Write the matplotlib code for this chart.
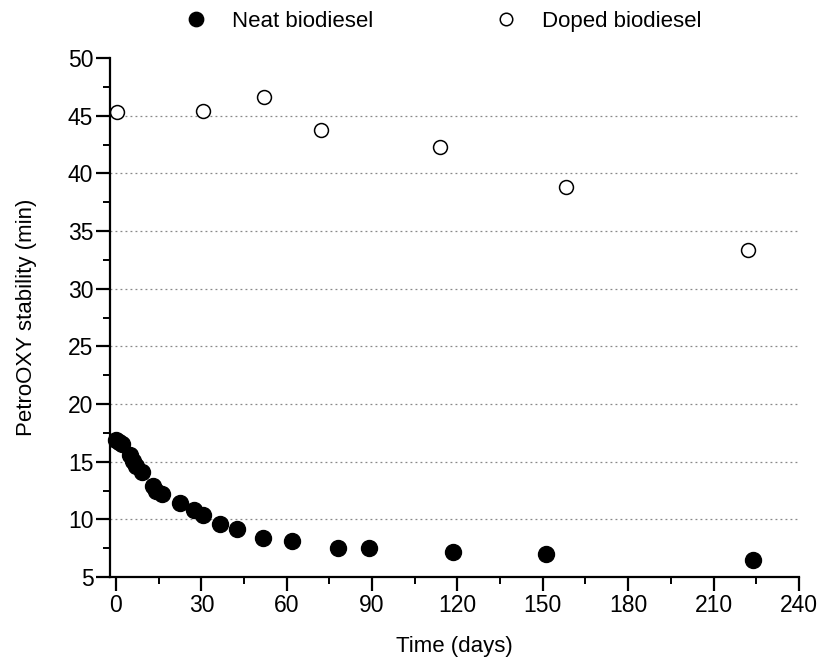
import matplotlib.pyplot as plt
from matplotlib.ticker import MultipleLocator

plt.rcParams["font.family"] = ["Liberation Sans", "DejaVu Sans"]

# ---- data ----
neat_days = [0, 1, 2, 5, 6, 7, 9, 13, 14, 16, 22.5, 27.5, 30.5, 36.5, 42.5,
             51.5, 62, 78, 89, 118.5, 151, 224]
neat_stab = [16.9, 16.7, 16.5, 15.6, 15.1, 14.6, 14.1, 12.9, 12.5, 12.2, 11.4,
             10.8, 10.4, 9.6, 9.2, 8.4, 8.1, 7.5, 7.5, 7.2, 7.0, 6.5]

doped_days = [0.3, 30.5, 52, 72, 114, 158, 222]
doped_stab = [45.3, 45.4, 46.6, 43.8, 42.3, 38.85, 33.4]

grid_levels = [10, 15, 20, 25, 30, 35, 40, 45]

fig = plt.figure(figsize=(8.36, 6.72), dpi=100)
ax = fig.add_axes([0.1316, 0.1414, 0.824, 0.772])

for g in grid_levels:
    ax.axhline(g, color="#888888", ls=(0, (1.5, 2.5)), lw=0.9, zorder=0)

ax.plot(neat_days, neat_stab, "o", color="black", ms=11.5, ls="none",
        label="Neat biodiesel", clip_on=False, zorder=3)
ax.plot(doped_days, doped_stab, "o", mfc="white", mec="black", mew=1.1,
        ms=10, ls="none", label="Doped biodiesel", clip_on=False, zorder=3)

ax.set_xlim(-2.1, 240)
ax.set_ylim(5, 50)
ax.xaxis.set_major_locator(MultipleLocator(30))
ax.xaxis.set_minor_locator(MultipleLocator(15))
ax.yaxis.set_major_locator(MultipleLocator(5))
ax.yaxis.set_minor_locator(MultipleLocator(2.5))

for s in ("top", "right"):
    ax.spines[s].set_visible(False)
for s in ("left", "bottom"):
    ax.spines[s].set_linewidth(1.6)

ax.tick_params(which="major", direction="out", length=10, width=1.6,
               labelsize=16.5, pad=2)
ax.tick_params(which="minor", direction="out", length=5, width=1.4)

ax.set_xlabel("Time (days)", fontsize=16, labelpad=14)
ax.set_ylabel("PetroOXY stability (min)", fontsize=16, labelpad=22)

fig.legend(*ax.get_legend_handles_labels(), loc="center",
           bbox_to_anchor=(0.53, 0.968), ncol=2, frameon=False, fontsize=16,
           columnspacing=5.5, handlelength=1.0, handletextpad=1.1,
           markerscale=0.9)

fig.savefig("out.png", dpi=100)
